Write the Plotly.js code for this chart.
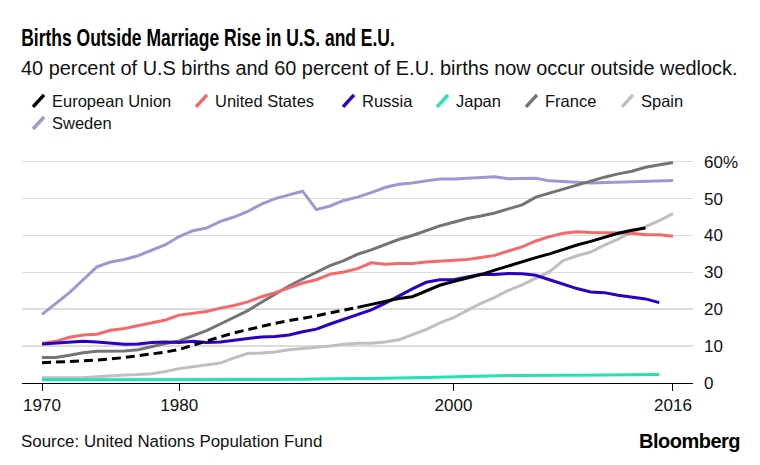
<!DOCTYPE html>
<html>
<head>
<meta charset="utf-8">
<script src="https://cdn.plot.ly/plotly-3.0.1.min.js"></script>
<style>
  html, body { margin: 0; padding: 0; background: #fff; }
  #chart { width: 760px; height: 465px; }
</style>
</head>
<body>
<div id="chart"></div>
<script>
// ---------------- DATA ----------------
const years = [1970,1971,1972,1973,1974,1975,1976,1977,1978,1979,
               1980,1981,1982,1983,1984,1985,1986,1987,1988,1989,
               1990,1991,1992,1993,1994,1995,1996,1997,1998,1999,
               2000,2001,2002,2003,2004,2005,2006,2007,2008,2009,
               2010,2011,2012,2013,2014,2015,2016];

const seriesNames = ["European Union","United States","Russia","Japan","France","Spain","Sweden"];

// percent of births outside marriage
const euVals = [5.5,5.6,5.8,6.0,6.2,6.5,6.9,7.4,7.8,8.4,
                9.1,10.3,11.4,12.5,13.6,14.5,15.4,16.2,16.9,17.5,
                18.2,19.0,19.8,20.5,21.3,22.3,22.9,23.4,25.0,26.5,
                27.5,28.4,29.4,30.6,31.8,32.8,34.0,35.0,36.3,37.4,
                38.4,39.6,40.6,41.4,42.0];
const euDashedUntil = 1993;  // earlier EU values shown dashed

const usVals = [10.7,11.3,12.4,13.0,13.2,14.3,14.8,15.5,16.3,17.1,
                18.4,18.9,19.4,20.3,21.0,22.0,23.4,24.5,25.7,27.1,
                28.0,29.5,30.1,31.0,32.6,32.2,32.4,32.4,32.8,33.0,
                33.2,33.5,34.0,34.6,35.8,36.9,38.5,39.7,40.6,41.0,
                40.8,40.7,40.7,40.6,40.2,40.2,39.8];

const russiaVals = [10.6,10.9,11.1,11.3,11.1,10.7,10.5,10.6,11.0,11.1,
                    11.0,11.3,11.0,11.1,11.6,12.0,12.5,12.6,13.0,13.9,
                    14.6,16.0,17.2,18.5,19.8,21.6,23.6,25.5,27.3,28.0,
                    28.0,28.8,29.5,29.4,29.7,29.6,29.2,28.0,26.8,25.6,
                    24.7,24.5,23.8,23.4,22.8,21.8];

const japanVals = [0.9,0.9,0.9,0.9,0.9,0.8,0.8,0.8,0.8,0.8,
                   0.8,0.8,0.8,0.9,0.9,1.0,1.0,1.0,1.0,1.0,
                   1.1,1.2,1.2,1.2,1.2,1.2,1.4,1.4,1.5,1.6,
                   1.6,1.9,1.9,1.9,2.0,2.0,2.1,2.0,2.1,2.1,
                   2.1,2.2,2.2,2.2,2.3,2.3];

const franceVals = [6.9,6.9,7.5,8.2,8.6,8.6,8.7,9.0,9.9,10.7,
                    11.4,12.7,14.2,16.0,17.9,19.6,21.9,24.1,26.3,28.2,
                    30.1,31.8,33.2,34.9,36.1,37.6,38.9,40.0,41.4,42.6,
                    43.6,44.6,45.3,46.1,47.2,48.3,50.4,51.5,52.4,53.5,
                    54.7,55.8,56.7,57.4,58.5,59.2,59.8];

const spainVals = [1.4,1.4,1.3,1.4,1.7,2.0,2.2,2.3,2.5,3.1,
                   3.9,4.4,5.0,5.4,6.8,8.0,8.1,8.4,9.0,9.3,
                   9.6,10.0,10.5,10.8,10.8,11.1,11.7,13.1,14.5,16.3,
                   17.7,19.7,21.6,23.2,25.1,26.6,28.4,30.2,33.2,34.5,
                   35.5,37.4,39.0,40.9,42.4,44.0,45.9];

const swedenVals = [18.6,21.5,24.5,28.0,31.5,32.8,33.5,34.5,35.9,37.5,
                    39.7,41.3,42.0,43.8,45.0,46.5,48.5,50.0,51.0,52.0,
                    47.0,48.0,49.5,50.4,51.6,53.0,53.9,54.2,54.8,55.3,
                    55.3,55.5,55.8,55.9,55.4,55.4,55.5,54.8,54.7,54.4,
                    54.2,54.3,54.5,54.4,54.6,54.7,54.9];

const yTickVals = [0,10,20,30,40,50,60];
const yTickText = ["0","10","20","30","40","50","60%"];
const xTickVals = [1970,1980,2000,2016];
const xTickText = ["1970","1980","2000","2016"];

const titleText = "Births Outside Marriage Rise in U.S. and E.U.";
const subtitleText = "40 percent of U.S births and 60 percent of E.U. births now occur outside wedlock.";
const sourceText = "Source: United Nations Population Fund";
const brandText = "Bloomberg";

// ---------------- STYLE ----------------
const colors = {
  "European Union": "#000000",
  "United States": "#f46a6a",
  "Russia": "#2a00c8",
  "Japan": "#22e2b2",
  "France": "#747474",
  "Spain": "#bfbfbf",
  "Sweden": "#9d98d3"
};
const LW = 3;
const FONT = "'Liberation Sans', Arial, Helvetica, sans-serif";

// plot geometry (pixels)
const W = 760, H = 465;
const M = {l: 22, r: 67, t: 158, b: 82.3};
const plotW = W - M.l - M.r, plotH = H - M.t - M.b;
const px2x = px => (px - M.l) / plotW;
const py2y = py => (H - M.b - py) / plotH;

function line(name, xs, ys, dash) {
  return {
    type: "scatter", mode: "lines", name: name,
    x: xs, y: ys,
    line: {color: colors[name], width: LW, dash: dash || "solid", shape: "linear"},
    showlegend: false, hoverinfo: "skip"
  };
}

const euSplit = years.indexOf(euDashedUntil);
const traces = [
  line("Spain", years.slice(0, spainVals.length), spainVals),
  line("Japan", years.slice(0, japanVals.length), japanVals),
  line("Sweden", years.slice(0, swedenVals.length), swedenVals),
  line("France", years.slice(0, franceVals.length), franceVals),
  line("United States", years.slice(0, usVals.length), usVals),
  line("Russia", years.slice(0, russiaVals.length), russiaVals),
  line("European Union", years.slice(0, euSplit + 1), euVals.slice(0, euSplit + 1), "9px,5px"),
  line("European Union", years.slice(euSplit, euVals.length), euVals.slice(euSplit))
];

// custom legend with slanted slash markers
const legendPos = [
  {text: 52, y: 101},   // European Union
  {text: 215, y: 101},  // United States
  {text: 362, y: 101},  // Russia
  {text: 456, y: 101},  // Japan
  {text: 545, y: 101},  // France
  {text: 641, y: 101},  // Spain
  {text: 52, y: 123}    // Sweden
];

const shapes = [];
const annotations = [];
seriesNames.forEach((nm, i) => {
  const p = legendPos[i];
  shapes.push({
    type: "line", xref: "paper", yref: "paper",
    x0: px2x(p.text - 19), y0: py2y(p.y + 6),
    x1: px2x(p.text - 8), y1: py2y(p.y - 6),
    line: {color: colors[nm], width: 3.5}
  });
  annotations.push({
    xref: "paper", yref: "paper", x: px2x(p.text - 2), y: py2y(p.y),
    xanchor: "left", yanchor: "middle", showarrow: false,
    text: nm, font: {family: FONT, size: 16.5, color: "#111"}
  });
});

const titleIndex = annotations.length;
annotations.push({
  xref: "paper", yref: "paper", x: px2x(19), y: py2y(38),
  xanchor: "left", yanchor: "middle", showarrow: false,
  text: '<b>' + titleText + '</b>',
  font: {family: FONT, size: 23, color: "#000"}
});
annotations.push({
  xref: "paper", yref: "paper", x: px2x(19), y: py2y(68),
  xanchor: "left", yanchor: "middle", showarrow: false,
  text: subtitleText,
  font: {family: FONT, size: 19.9, color: "#111"}
});
annotations.push({
  xref: "paper", yref: "paper", x: px2x(19), y: py2y(441),
  xanchor: "left", yanchor: "middle", showarrow: false,
  text: sourceText,
  font: {family: FONT, size: 16.9, color: "#111"}
});
annotations.push({
  xref: "paper", yref: "paper", x: px2x(742), y: py2y(441),
  xanchor: "right", yanchor: "middle", showarrow: false,
  text: '<span style="letter-spacing:-0.5px"><b>' + brandText + '</b></span>',
  font: {family: FONT, size: 20, color: "#000"}
});

// condensed look for the headline (the original uses a condensed bold face)
const st = document.createElement("style");
st.textContent =
  '#chart g.annotation[data-index="' + titleIndex + '"] text.annotation-text {' +
  ' transform-box: fill-box; transform-origin: 0 50%; transform: scaleX(0.76); }';
document.head.appendChild(st);

const layout = {
  width: W, height: H,
  margin: M,
  paper_bgcolor: "#fff", plot_bgcolor: "#fff",
  showlegend: false,
  font: {family: FONT, color: "#111"},
  xaxis: {
    range: [1968.54, 2017.46],
    tickvals: xTickVals, ticktext: xTickText,
    ticks: "outside", ticklen: 7, tickwidth: 1, tickcolor: "#000",
    showline: true, linecolor: "#000", linewidth: 1,
    showgrid: false, zeroline: false,
    tickfont: {family: FONT, size: 17, color: "#111"},
    fixedrange: true
  },
  yaxis: {
    range: [0, 61],
    side: "right",
    tickvals: yTickVals, ticktext: yTickText,
    ticks: "", ticklabelstandoff: 10,
    showgrid: true, gridcolor: "#dcdcdc", gridwidth: 1.5,
    zeroline: false, showline: false,
    tickfont: {family: FONT, size: 17, color: "#111"},
    fixedrange: true
  },
  shapes: shapes,
  annotations: annotations
};

Plotly.newPlot("chart", traces, layout, {displayModeBar: false, staticPlot: true});
</script>
</body>
</html>
